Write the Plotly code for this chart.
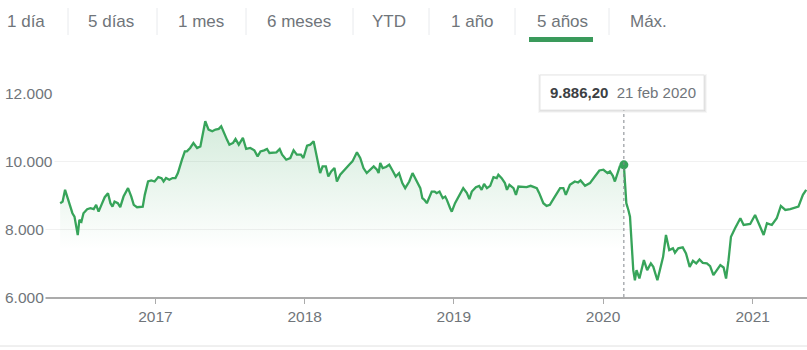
import pandas as pd
import plotly.graph_objects as go

# ---------------- data ----------------
# time as fractional years
fecha_anio = [
    2016.364, 2016.379, 2016.397, 2016.415, 2016.431, 2016.446, 2016.460, 2016.469, 2016.480, 2016.491,
    2016.505, 2016.520, 2016.543, 2016.565, 2016.587, 2016.603, 2016.620, 2016.638, 2016.661, 2016.683,
    2016.699, 2016.714, 2016.728, 2016.750, 2016.766, 2016.788, 2016.817, 2016.839, 2016.855, 2016.877,
    2016.900, 2016.915, 2016.928, 2016.951, 2016.973, 2016.995,
    2017.018, 2017.040, 2017.056, 2017.072, 2017.094, 2017.116, 2017.134, 2017.152, 2017.179, 2017.196,
    2017.212, 2017.234, 2017.256, 2017.279, 2017.301, 2017.319, 2017.335, 2017.357, 2017.380, 2017.402,
    2017.424, 2017.440, 2017.462, 2017.480, 2017.497, 2017.520, 2017.536, 2017.558, 2017.587, 2017.609,
    2017.636, 2017.663, 2017.685, 2017.703, 2017.730, 2017.748, 2017.765, 2017.788, 2017.810, 2017.832,
    2017.848, 2017.877, 2017.904, 2017.926, 2017.949, 2017.976, 2017.993,
    2018.016, 2018.038, 2018.060, 2018.071, 2018.089, 2018.105, 2018.120, 2018.143, 2018.160, 2018.178,
    2018.201, 2018.217, 2018.239, 2018.267, 2018.299, 2018.321, 2018.351, 2018.373, 2018.395, 2018.417,
    2018.440, 2018.462, 2018.484, 2018.495, 2018.507, 2018.522, 2018.545, 2018.567, 2018.589, 2018.612,
    2018.634, 2018.656, 2018.674, 2018.701, 2018.723, 2018.746, 2018.774, 2018.790, 2018.803, 2018.819,
    2018.835, 2018.853, 2018.870, 2018.886, 2018.904, 2018.926, 2018.942, 2018.953, 2018.975, 2018.987,
    2019.009, 2019.042, 2019.064, 2019.087, 2019.104, 2019.120, 2019.149, 2019.171, 2019.187, 2019.203,
    2019.221, 2019.243, 2019.265, 2019.288, 2019.299, 2019.321, 2019.343, 2019.355, 2019.372, 2019.399,
    2019.417, 2019.433, 2019.462, 2019.489, 2019.516, 2019.533, 2019.556, 2019.573, 2019.600, 2019.623,
    2019.645, 2019.667, 2019.690, 2019.712, 2019.734, 2019.752, 2019.779, 2019.812, 2019.834, 2019.850,
    2019.879, 2019.913, 2019.946, 2019.975,
    2020.002, 2020.029, 2020.047, 2020.065, 2020.080, 2020.095, 2020.113, 2020.1393, 2020.155, 2020.169,
    2020.180, 2020.192, 2020.202, 2020.214, 2020.225, 2020.243, 2020.259, 2020.274, 2020.296, 2020.319,
    2020.336, 2020.363, 2020.381, 2020.403, 2020.421, 2020.443, 2020.466, 2020.482, 2020.504, 2020.533,
    2020.556, 2020.578, 2020.601, 2020.623, 2020.645, 2020.667, 2020.694, 2020.716, 2020.738, 2020.761,
    2020.783, 2020.805, 2020.823, 2020.839, 2020.855, 2020.883, 2020.917, 2020.939, 2020.984,
    2021.017, 2021.051, 2021.073, 2021.096, 2021.129, 2021.163, 2021.190, 2021.218, 2021.252, 2021.307,
    2021.337, 2021.359,
]

valores = [
    8759, 8806, 9152, 8907, 8659, 8464, 8363, 8118, 7823, 8266,
    8216, 8464, 8582, 8611, 8582, 8709, 8511, 8709, 8936, 9054,
    8759, 8659, 8806, 8759, 8641, 8954, 9202, 8954, 8709, 8641,
    8641, 8659, 9004, 9397, 9427, 9397,
    9527, 9497, 9397, 9497, 9447, 9497, 9497, 9645, 10038, 10283,
    10283, 10384, 10531, 10384, 10431, 10777, 11170, 10924, 10874, 10924,
    10945, 11022, 10777, 10629, 10481, 10531, 10650, 10481, 10679, 10354,
    10384, 10313, 10136, 10283, 10313, 10354, 10236, 10254, 10254, 10354,
    10186, 10038, 10088, 10313, 10186, 10186, 10088,
    10452, 10481, 10579, 10333, 9941, 9645, 9840, 9840, 9545, 9693,
    9793, 9397, 9595, 9743, 9890, 9988, 10254, 10088, 9793, 9645,
    9763, 9840, 9743, 9645, 9941, 9793, 9822, 9890, 9722, 9545,
    9645, 9350, 9202, 9397, 9645, 9447, 9202, 8907, 8857, 8759,
    8954, 9102, 9102, 9054, 9102, 8907, 8954, 8857, 8611, 8511,
    8759, 9054, 9202, 9054, 8877, 9102, 9232, 9270, 9152, 9329,
    9202, 9270, 9527, 9497, 9595, 9497, 9350, 9152, 9300, 9202,
    9004, 9249, 9232, 9232, 9270, 9232, 9202, 9054, 8759, 8679,
    8709, 8871, 9054, 9202, 9202, 9004, 9300, 9397, 9368, 9427,
    9270, 9350, 9545, 9722,
    9743, 9645, 9693, 9566, 9397, 9645, 9840, 9886.20, 8759, 8561,
    8363, 7577, 6789, 6493, 6789, 6544, 6839, 7084, 6789, 6987,
    6886, 6493, 6789, 7182, 7823, 7380, 7430, 7300, 7430, 7459,
    7282, 6886, 7063, 6987, 7105, 7004, 6987, 6907, 6641, 6789,
    6936, 6868, 6544, 7084, 7772, 8021, 8316, 8118, 8148,
    8413, 8068, 7823, 8168, 8118, 8316, 8679, 8561, 8582, 8659,
    9004, 9152,
]

fecha_hover = "2020-02-21"
pestanas = ["1 día", "5 días", "1 mes", "6 meses", "YTD", "1 año", "5 años", "Máx."]
pestana_activa = "5 años"
ticks_y = [6000, 8000, 10000, 12000]
meses_es = ["ene", "feb", "mar", "abr", "may", "jun", "jul", "ago", "sept", "oct", "nov", "dic"]

assert len(fecha_anio) == len(valores)

# ---------------- helpers ----------------
def to_date(y):
    yr = int(y)
    start = pd.Timestamp(yr, 1, 1)
    ndays = 366 if pd.Timestamp(yr, 12, 31).dayofyear == 366 else 365
    return start + pd.Timedelta(days=round((y - yr) * ndays))

fechas = [to_date(y) for y in fecha_anio]
hover_ts = pd.Timestamp(fecha_hover)
idx_h = fechas.index(hover_ts)
val_h = valores[idx_h]

def fmt_es(v, dec=0):
    s = f"{v:,.{dec}f}"
    return s.replace(",", "X").replace(".", ",").replace("X", ".")

W, H = 807, 350
L, R, T, B = 43, 0, 93, 53
PW, PH = W - L - R, H - T - B

def px_x(p):
    return (p - L) / PW

def px_y(p):
    return (H - B - p) / PH

GREEN = "#37a45a"
GRAY = "#70757a"
FONT = "Arial, Liberation Sans, sans-serif"

fig = go.Figure()

# filled area up to the hovered point
fig.add_trace(go.Scatter(
    x=fechas[: idx_h + 1], y=valores[: idx_h + 1],
    mode="lines", line=dict(width=0, color=GREEN),
    fill="tozeroy",
    fillgradient=dict(type="vertical", start=7400, stop=11300,
                      colorscale=[[0, "rgba(55,164,90,0)"], [1, "rgba(55,164,90,0.22)"]]),
    hoverinfo="skip", showlegend=False,
))

# full line
fig.add_trace(go.Scatter(
    x=fechas, y=valores, mode="lines",
    line=dict(width=2.3, color=GREEN),
    hoverinfo="skip", showlegend=False,
))

# hover marker
fig.add_trace(go.Scatter(
    x=[fechas[idx_h]], y=[val_h], mode="markers",
    marker=dict(size=9, color=GREEN),
    hoverinfo="skip", showlegend=False,
))

shapes = []
annotations = []

# dotted vertical hover line
shapes.append(dict(type="line", xref="x", yref="paper",
                   x0=fechas[idx_h], x1=fechas[idx_h], y0=0, y1=px_y(110),
                   line=dict(color="#80868b", width=1, dash="dot"), layer="above"))

# tooltip box (with soft shadow)
for off, a in [(3, 0.03), (2, 0.05), (1, 0.06)]:
    shapes.append(dict(type="rect", xref="paper", yref="paper",
                       x0=px_x(540 - off + 1), x1=px_x(704 + off), y0=px_y(110 + off), y1=px_y(75 - off + 2),
                       line=dict(width=0), fillcolor=f"rgba(0,0,0,{a})", layer="above"))
shapes.append(dict(type="rect", xref="paper", yref="paper",
                   x0=px_x(540), x1=px_x(704), y0=px_y(110), y1=px_y(75),
                   line=dict(width=1, color="#e6e6e6"), fillcolor="white", layer="above"))
fecha_txt = f"{hover_ts.day} {meses_es[hover_ts.month - 1]} {hover_ts.year}"
annotations.append(dict(
    xref="paper", yref="paper", x=px_x(622.5), y=px_y(92.5),
    xanchor="center", yanchor="middle", showarrow=False,
    text=f"<b>{fmt_es(val_h, 2)}</b>&nbsp;&nbsp;<span style='color:{GRAY}'>{fecha_txt}</span>",
    font=dict(family=FONT, size=15, color="#3c4043"),
))

# y tick labels (left aligned)
for v in ticks_y:
    annotations.append(dict(
        xref="paper", yref="y", x=px_x(3), y=v, xanchor="left", yanchor="middle",
        showarrow=False, text=fmt_es(v), bgcolor="white", borderpad=1,
        font=dict(family=FONT, size=15.5, color=GRAY),
    ))

# tabs header
tab_cx = [26, 111, 201, 299, 389, 472, 562, 648]
sep_x = [68, 157, 246, 353, 429, 515, 609]
for name, cx in zip(pestanas, tab_cx):
    annotations.append(dict(
        xref="paper", yref="paper", x=px_x(cx), y=px_y(22),
        xanchor="center", yanchor="middle", showarrow=False, text=name,
        font=dict(family=FONT, size=17, color=GRAY),
    ))
for sx in sep_x:
    shapes.append(dict(type="line", xref="paper", yref="paper",
                       x0=px_x(sx), x1=px_x(sx), y0=px_y(35), y1=px_y(8),
                       line=dict(color="#e8eaed", width=1)))
ai = pestanas.index(pestana_activa)
shapes.append(dict(type="rect", xref="paper", yref="paper",
                   x0=px_x(tab_cx[ai] - 33), x1=px_x(tab_cx[ai] + 31), y0=px_y(42), y1=px_y(37),
                   line=dict(width=0), fillcolor="#3a9a5b"))

# bottom separator
shapes.append(dict(type="line", xref="paper", yref="paper",
                   x0=px_x(0), x1=px_x(W), y0=px_y(346), y1=px_y(346),
                   line=dict(color="#e0e0e0", width=1)))

fig.update_layout(
    width=W, height=H,
    margin=dict(l=L, r=R, t=T, b=B, pad=0),
    paper_bgcolor="white", plot_bgcolor="white",
    font=dict(family=FONT, color=GRAY),
    shapes=shapes, annotations=annotations,
    showlegend=False,
    xaxis=dict(
        type="date", range=["2016-04-01", "2021-05-14"],
        tick0="2017-01-01", dtick="M12", tickformat="%Y",
        showgrid=False, zeroline=False,
        showline=True, linecolor="#ababab", linewidth=1.5,
        ticks="outside", ticklen=5, tickwidth=1, tickcolor="#ababab",
        tickfont=dict(family=FONT, size=15.5, color=GRAY),
        fixedrange=True,
    ),
    yaxis=dict(
        range=[6000, 12000], tickvals=ticks_y, showticklabels=False,
        showgrid=True, gridcolor="#f1f1f1", gridwidth=1,
        zeroline=False, showline=False, ticks="", fixedrange=True,
    ),
)

fig.write_html("out.html")
